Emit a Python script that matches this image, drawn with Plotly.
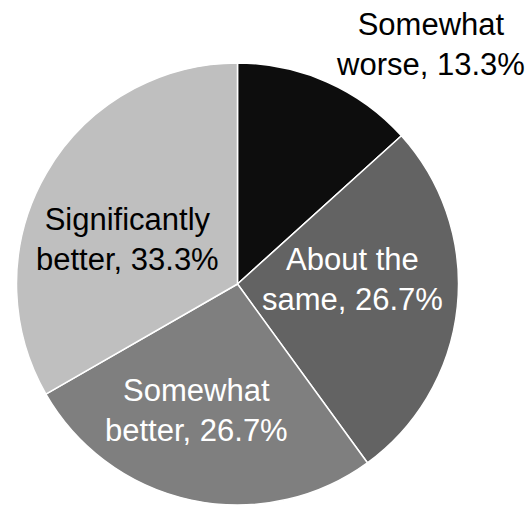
import plotly.graph_objects as go

labels = ["Somewhat<br>worse", "About the<br>same", "Somewhat<br>better", "Significantly<br>better"]
values = [13.3, 26.7, 26.7, 33.3]
colors = ["#0d0d0d", "#636363", "#7f7f7f", "#bfbfbf"]
text_colors = ["#000000", "#ffffff", "#ffffff", "#000000"]
# label centres in pixels (layout only)
label_px = [(430, 44.5), (352, 279), (197, 410.5), (127, 239.5)]

W, H = 530, 512
cx, cy, r = 237.5, 284, 221
FS = 31

fig = go.Figure(go.Pie(
    labels=labels,
    values=values,
    sort=False,
    direction="clockwise",
    rotation=0,
    marker=dict(colors=colors, line=dict(color="#ffffff", width=1.5)),
    textinfo="none",
    domain=dict(x=[(cx - r) / W, (cx + r) / W], y=[1 - (cy + r) / H, 1 - (cy - r) / H]),
    showlegend=False,
    hoverinfo="none",
))

total = sum(values)
for lab, val, col, (px, py) in zip(labels, values, text_colors, label_px):
    fig.add_annotation(
        x=px / W, y=1 - py / H, xref="paper", yref="paper",
        text=f"{lab}, {val / total * 100:.1f}%",
        showarrow=False, xanchor="center", yanchor="middle", align="center",
        font=dict(family="Liberation Sans, Arial, sans-serif", size=FS, color=col),
    )

fig.update_layout(
    width=W, height=H,
    margin=dict(l=0, r=0, t=0, b=0),
    paper_bgcolor="#ffffff",
    plot_bgcolor="#ffffff",
)

fig.write_html("out.html")
